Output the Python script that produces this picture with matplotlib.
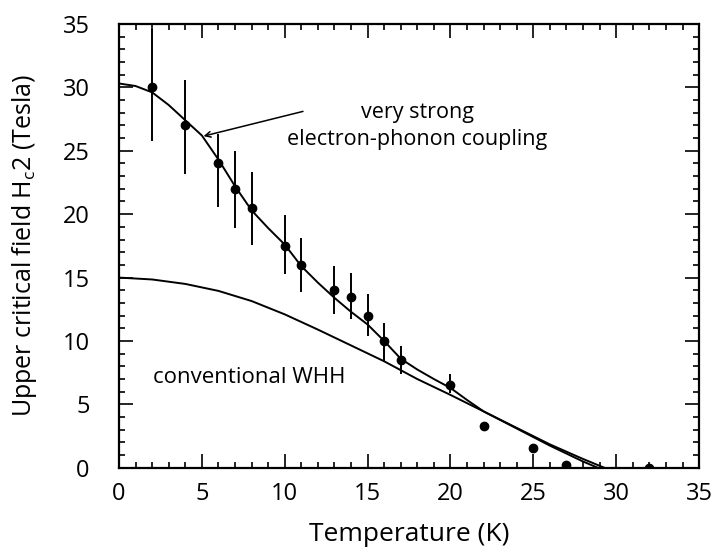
import matplotlib
matplotlib.use("Agg")
import matplotlib.pyplot as plt
from matplotlib.ticker import MultipleLocator

# Measured data (temperature in K, Hc2 in Tesla)
temp = [2, 4, 6, 7, 8, 10, 11, 13, 14, 15, 16, 17, 20, 22, 25, 27, 32]
hc2 = [30, 27, 24, 22, 20.5, 17.5, 16, 14, 13.5, 12, 10, 8.5, 6.5, 3.3, 1.6, 0.2, 0.0]
err_low = [4.2, 3.8, 3.4, 3.1, 2.9, 2.2, 2.1, 1.9, 1.8, 1.6, 1.6, 1.1, 0.6, 0, 0, 0, 0]
err_high = [4.6, 3.6, 2.3, 3.0, 2.8, 2.4, 2.1, 1.9, 1.9, 1.7, 1.4, 1.1, 0.9, 0, 0, 0, 0]

# Strong-coupling curve
strong_t = [0, 1, 2, 3, 4, 5, 6, 7, 8, 9, 10, 11, 12, 13, 14, 15, 16, 17, 18, 19, 20, 21, 22, 24, 26, 28, 29.3]
strong_h = [30.3, 30.1, 29.6, 28.6, 27.4, 26.2, 24.3, 22.2, 20.3, 18.9, 17.6, 15.9, 14.6, 13.4, 12.3, 11.3, 10.0, 8.6, 7.75, 7.0, 6.3, 5.35, 4.45, 3.15, 1.85, 0.7, 0.0]

# Conventional WHH curve
whh_t = [0, 2, 4, 6, 8, 10, 12, 14, 16, 18, 20, 22, 24, 26, 28, 28.9]
whh_h = [15.0, 14.85, 14.5, 13.95, 13.15, 12.1, 10.9, 9.65, 8.4, 7.0, 5.75, 4.45, 3.1, 1.75, 0.5, 0.0]

xticks = [0, 5, 10, 15, 20, 25, 30, 35]
yticks = [0, 5, 10, 15, 20, 25, 30, 35]

plt.rcParams['font.family'] = ['Open Sans', 'DejaVu Sans']

fig = plt.figure(figsize=(7.17, 5.55), dpi=100)
ax = fig.add_axes([0.166, 0.157, 0.809, 0.800])

ax.plot(strong_t, strong_h, color='black', lw=1.4)
ax.plot(whh_t, whh_h, color='black', lw=1.4)
ax.errorbar(temp, hc2, yerr=[err_low, err_high], fmt='o', color='black',
            ms=6, elinewidth=1.4, capsize=0)

ax.set_xlim(0, 35)
ax.set_ylim(0, 35)
ax.set_xticks(xticks)
ax.set_yticks(yticks)
ax.xaxis.set_minor_locator(MultipleLocator(1))
ax.yaxis.set_minor_locator(MultipleLocator(1))
ax.tick_params(which='both', direction='in', top=True, right=True,
               labelsize=17, width=1.2)
ax.tick_params(which='major', length=10)
ax.tick_params(which='minor', length=4)
ax.tick_params(axis='x', which='major', pad=10)
ax.tick_params(axis='y', which='major', pad=21)
for s in ax.spines.values():
    s.set_linewidth(1.6)

ax.set_xlabel('Temperature (K)', fontsize=19, labelpad=12)
ax.set_ylabel(r'Upper critical field H$_{\mathregular{c}}$2 (Tesla)', fontsize=18, labelpad=17)

ax.annotate('', xy=(5.1, 26.15), xytext=(11.1, 28.1),
            arrowprops=dict(arrowstyle='->', color='black', lw=1.1,
                            shrinkA=0, shrinkB=0))
ax.text(18.0, 26.95, 'very strong\nelectron-phonon coupling', ha='center',
        va='center', fontsize=15.5, linespacing=1.4)
ax.text(7.85, 7.1, 'conventional WHH', ha='center', va='center', fontsize=16)

fig.savefig('out.png', dpi=100)
